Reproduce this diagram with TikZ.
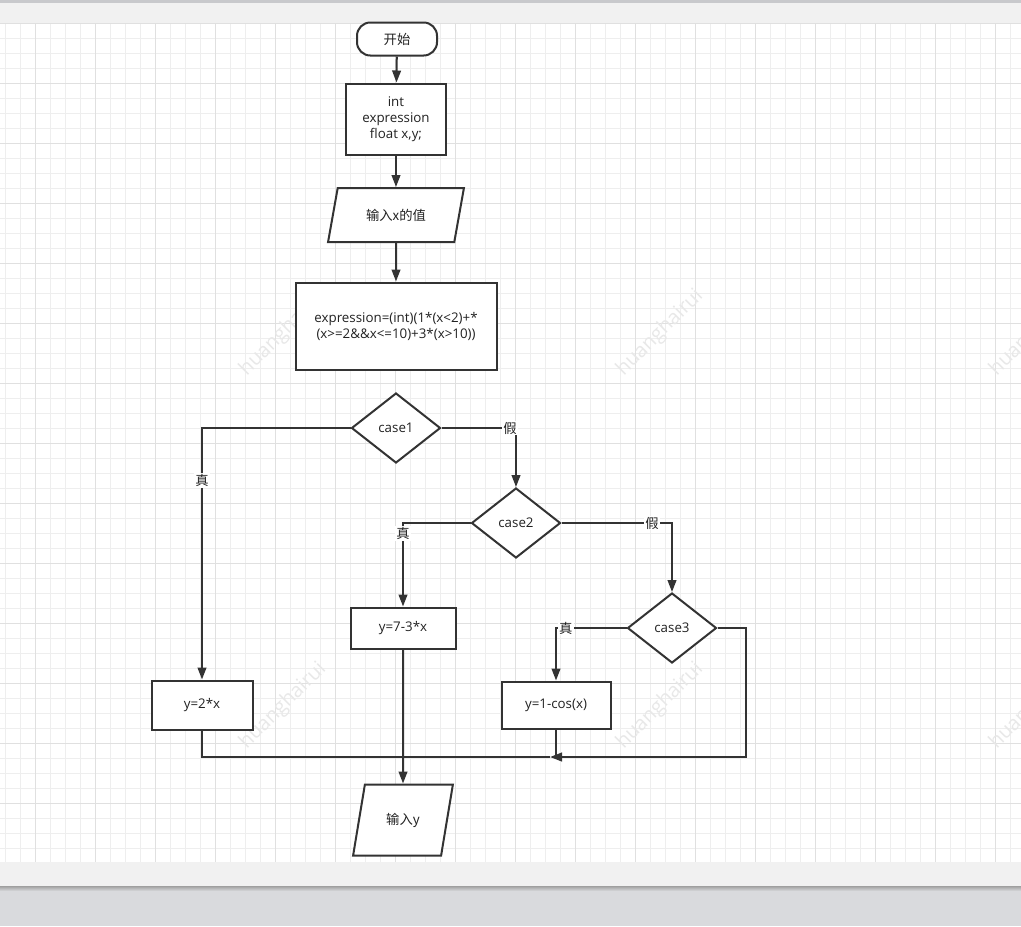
\documentclass[tikz,border=0pt]{standalone}
\usepackage{fontspec}
\setmainfont{Open Sans}
\newfontfamily\cjk{Noto Sans CJK SC}
\usepackage{xcolor}
\definecolor{fcline}{RGB}{51,51,51}
\definecolor{fctext}{RGB}{34,34,34}
\definecolor{gridminor}{RGB}{238,238,238}
\definecolor{gridmajor}{RGB}{224,224,224}
\definecolor{bandgray}{RGB}{241,241,241}
\definecolor{basegray}{RGB}{217,218,221}
\definecolor{stripgray}{RGB}{200,201,204}
\definecolor{markgray}{RGB}{232,232,232}
\usetikzlibrary{arrows.meta,positioning,shapes.geometric,calc}

\begin{document}
\begin{tikzpicture}[x=0.75pt, y=-0.75pt,
  base/.style={draw=fcline, line width=1.5pt, fill=white, text=fctext,
               font=\fontsize{10}{12}\selectfont, align=center, inner sep=2pt},
  term/.style={base, rectangle, rounded corners=10pt},
  proc/.style={base, rectangle},
  io/.style={base, trapezium, trapezium left angle=73, trapezium right angle=107,
             trapezium stretches=true},
  cond/.style={base, diamond, minimum width=66.75pt, minimum height=52.5pt, inner sep=0pt},
  lbl/.style={fill=white, text=fctext, font=\fontsize{10}{12}\selectfont\cjk, inner sep=1pt},
  wmark/.style={text=markgray, font=\fontsize{15}{15}\selectfont, rotate=45},
  arr/.style={-{Triangle[length=9pt, width=6.5pt]}, line width=1.5pt, draw=fcline},
  line/.style={line width=1.5pt, draw=fcline}
]
\useasboundingbox (0,0) rectangle (1021,926);

% Page background and grid
\fill[white] (0,23) rectangle (1021,862);
\foreach \gx in {5,20,...,1020} \draw[gridminor, line width=0.75pt] (\gx,23) -- (\gx,862);
\foreach \gy in {23,38,...,862} \draw[gridminor, line width=0.75pt] (0,\gy) -- (1021,\gy);
\foreach \gx in {35,95,...,995} \draw[gridmajor, line width=0.75pt] (\gx,23) -- (\gx,862);
\foreach \gy in {23,83,...,803} \draw[gridmajor, line width=0.75pt] (0,\gy) -- (1021,\gy);
\fill[stripgray] (0,0) rectangle (1021,3);
\fill[bandgray] (0,3) rectangle (1021,23);
\fill[bandgray] (0,862) rectangle (1021,886);
\shade[top color=gray!75, bottom color=basegray] (0,886) rectangle (1021,891);
\fill[basegray] (0,891) rectangle (1021,926);

% Watermarks
\foreach \wx/\wy [count=\wi] in {283/333, 660/333, 1033/333, 283/706, 660/706, 1033/706}
  \node[wmark] (wm\wi) at (\wx,\wy) {huanghairui};

% Nodes
\node[term, minimum width=60pt, minimum height=24.75pt] (start) at (397,39) {\cjk 开始};
\node[proc, minimum width=75pt, minimum height=53.25pt] (decl) at (396,119)
  {int\\expression\\float x,y;};
\node[io, minimum width=102pt, minimum height=40.5pt] (inx) at (396,215) {\cjk 输入x的值};
\node[proc, minimum width=150.75pt, minimum height=65.25pt] (expr) at (396,326)
  {expression=(int)(1*(x<2)+*\\(x>=2\&\&x<=10)+3*(x>10))};

\node[cond] (case1) at (396,428) {case1};
\node[cond] (case2) at (516,523) {case2};
\node[cond] (case3) at (672,628) {case3};

\node[proc, minimum width=75.75pt, minimum height=36.75pt] (ytwo)   at (202,705) {y=2*x};
\node[proc, minimum width=78.75pt, minimum height=30.75pt] (yseven) at (403,628) {y=7-3*x};
\node[proc, minimum width=81.75pt, minimum height=35.25pt] (ycos)   at (556,705) {y=1-cos(x)};
\node[io, minimum width=75pt, minimum height=53.25pt] (outy) at (403,820) {\cjk 输入y};

\coordinate (turn) at (746,757);
\coordinate (join) at (550,757);

% Arrows
\draw[arr] (start) -- (decl);
\draw[arr] (decl) -- (inx);
\draw[arr] (inx) -- (expr);
\draw[arr] (case1.west) -| node[lbl, pos=0.605] (t1) {真} (ytwo.north);
\draw[arr] (case1.east) -| node[lbl, pos=0.46] (f1) {假} (case2.north);
\draw[arr] (case2.west) -| node[lbl, pos=0.56] (t2) {真} (yseven.north);
\draw[arr] (case2.east) -| node[lbl, pos=0.41] (f2) {假} (case3.north);
\draw[arr] (case3.west) -| node[lbl, pos=0.43] (t3) {真} (ycos.north);
\draw[arr] (case3.east) -| (turn) -- (join);
\draw[line] (ycos.south) -- (ycos.south |- join);
\draw[line] (ytwo.south) |- (join);
\draw[arr] (yseven.south) -- (outy.north);
\end{tikzpicture}
\end{document}
